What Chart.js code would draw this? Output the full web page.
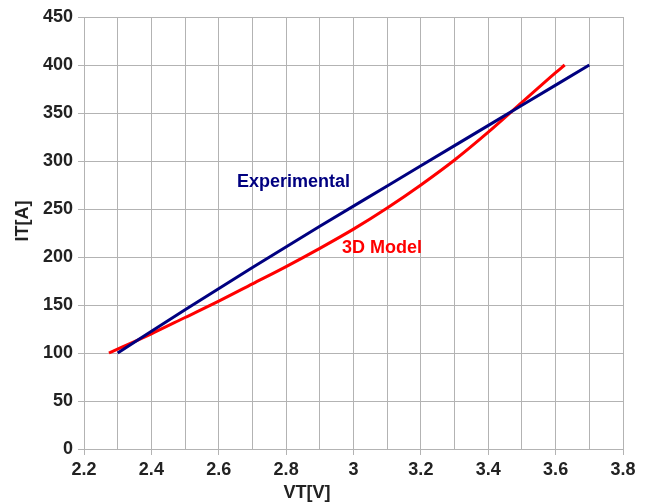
<!DOCTYPE html>
<html>
<head>
<meta charset="utf-8">
<script src="https://cdn.jsdelivr.net/npm/chart.js@4.4.0/dist/chart.umd.min.js"></script>
<style>
  html, body { margin: 0; padding: 0; background: #fff; }
  #wrap { width: 651px; height: 504px; }
</style>
</head>
<body>
<div id="wrap"><canvas id="myChart" width="651" height="504"></canvas></div>
<script>
// datos
const vtExp = [2.3, 2.5, 2.7, 2.9, 3.1, 3.3, 3.5, 3.7];
const itExp = [100, 145, 189, 232, 274, 316, 358, 400];

const vtModel = [2.274, 2.4, 2.5, 2.6, 2.7, 2.8, 2.9, 3.0, 3.1, 3.2, 3.3, 3.4, 3.5, 3.6, 3.627];
const itModel = [100, 120, 137, 154, 172, 190, 209, 229, 251, 275, 301, 330, 361, 392, 400];

const seriesNames = ["Experimental", "3D Model"];
const axisTitles = ["VT[V]", "IT[A]"];

const FONT = '"Liberation Sans", Arial, sans-serif';
const GRID = "#b3b3b3";

function toPoints(xs, ys) {
  return xs.map((x, i) => ({ x: x, y: ys[i] }));
}

// etiquetas de las series y titulos de los ejes
const labelsPlugin = {
  id: "labelsPlugin",
  afterDatasetsDraw(chart) {
    const ctx = chart.ctx;
    const sx = chart.scales.x;
    const sy = chart.scales.y;
    ctx.save();
    ctx.font = "bold 18px " + FONT;
    ctx.textBaseline = "middle";
    ctx.textAlign = "left";
    ctx.fillStyle = "#000080";
    ctx.fillText(seriesNames[0], sx.getPixelForValue(2.654), sy.getPixelForValue(278));
    ctx.fillStyle = "#ff0000";
    ctx.fillText(seriesNames[1], sx.getPixelForValue(2.966), sy.getPixelForValue(209));

    ctx.fillStyle = "#222";
    ctx.textAlign = "center";
    ctx.fillText(axisTitles[0], 307, 493);
    ctx.translate(23, 221);
    ctx.rotate(-Math.PI / 2);
    ctx.fillText(axisTitles[1], 0, 0);
    ctx.restore();
  },
};

function isMajor(value, step) {
  return Math.abs(Math.round(value / step) - value / step) < 1e-6;
}

new Chart(document.getElementById("myChart").getContext("2d"), {
  type: "scatter",
  data: {
    datasets: [
      {
        label: seriesNames[0],
        data: toPoints(vtExp, itExp),
        showLine: true,
        borderColor: "#000080",
        backgroundColor: "#000080",
        borderWidth: 3,
        pointRadius: 0,
        tension: 0.4,
        cubicInterpolationMode: "monotone",
      },
      {
        label: seriesNames[1],
        data: toPoints(vtModel, itModel),
        showLine: true,
        borderColor: "#ff0000",
        backgroundColor: "#ff0000",
        borderWidth: 3,
        pointRadius: 0,
        tension: 0.4,
        cubicInterpolationMode: "monotone",
      },
    ],
  },
  options: {
    responsive: false,
    animation: false,
    layout: { padding: { top: 17, right: 28, left: 0, bottom: 0 } },
    plugins: { legend: { display: false }, tooltip: { enabled: false } },
    scales: {
      x: {
        type: "linear",
        min: 2.2,
        max: 3.8,
        afterFit(scale) { scale.height = 55; },
        ticks: {
          stepSize: 0.1,
          padding: 4,
          color: "#222",
          font: { family: FONT, size: 18, weight: "bold" },
          callback: (v) => (isMajor(v, 0.2) ? String(Math.round(v * 10) / 10) : ""),
        },
        grid: {
          color: GRID,
          tickLength: 6,
          tickColor: (c) => (c.tick && isMajor(c.tick.value, 0.2) ? GRID : "rgba(0,0,0,0)"),
        },
        border: { color: GRID },
      },
      y: {
        min: 0,
        max: 450,
        afterFit(scale) { scale.width = 84; },
        ticks: {
          stepSize: 25,
          padding: 5,
          color: "#222",
          font: { family: FONT, size: 18, weight: "bold" },
          callback: (v) => (v % 50 === 0 ? String(v) : ""),
        },
        grid: {
          color: GRID,
          tickLength: 6,
          tickColor: (c) => (c.tick && c.tick.value % 50 === 0 ? GRID : "rgba(0,0,0,0)"),
        },
        border: { color: GRID },
      },
    },
  },
  plugins: [labelsPlugin],
});
</script>
</body>
</html>
